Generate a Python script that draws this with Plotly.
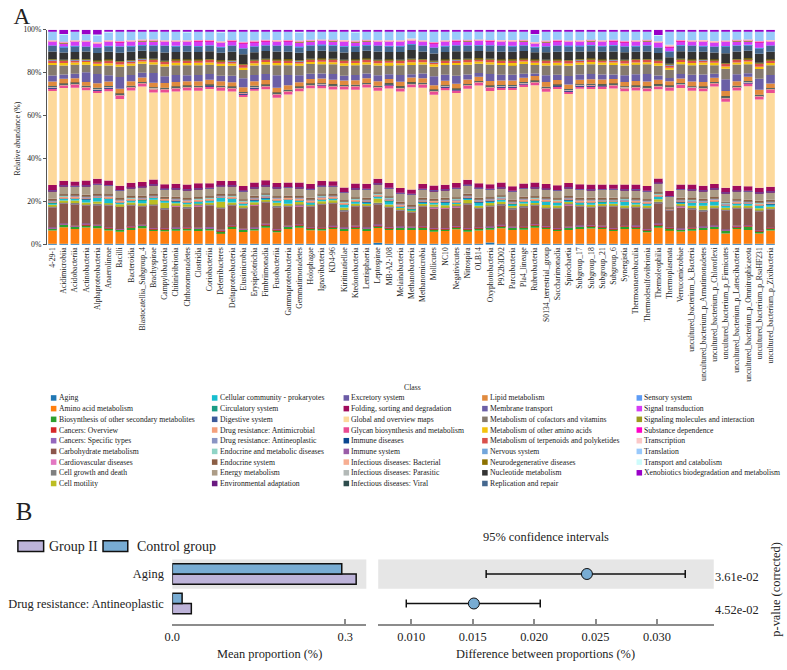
import plotly.graph_objects as go

W, H = 787, 670
FONT = "Liberation Serif, Times New Roman, serif"

# ---------------- Panel A data ----------------
taxa = ["4-29-1", "Acidimicrobiia", "Acidobacteriia", "Actinobacteria", "Alphaproteobacteria",
        "Anaerolineae", "Bacilli", "Bacteroidia", "Blastocatellia_Subgroup_4", "Brachyspirae",
        "Campylobacteria", "Chitinivibrionia", "Chthonomonadetes", "Clostridia", "Coriobacteriia",
        "Deferribacteres", "Deltaproteobacteria", "Elusimicrobia", "Erysipelotrichia", "Fimbriimonadia",
        "Fusobacteriia", "Gammaproteobacteria", "Gemmatimonadetes", "Holophagae", "Ignavibacteria",
        "KD4-96", "Kiritimatiellae", "Ktedonobacteria", "Lentisphaeria", "Leptospirae",
        "MB-A2-108", "Melainabacteria", "Methanobacteria", "Methanomicrobia", "Mollicutes",
        "NC10", "Negativicutes", "Nitrospira", "OLB14", "Oxyphotobacteria",
        "P9X2b3D02", "Parcubacteria", "Pla4_lineage", "Rubrobacteria", "S0134_terrestrial_group",
        "Saccharimonadia", "Spirochaetia", "Subgroup_17", "Subgroup_18", "Subgroup_21",
        "Subgroup_6", "Synergistia", "Thermoanaerobaculia", "Thermodesulfovibrionia", "Thermoleophilia",
        "Thermoplasmata", "Verrucomicrobiae", "uncultured_bacterium_k_Bacteria",
        "uncultured_bacterium_p_Armatimonadetes", "uncultured_bacterium_p_Chloroflexi",
        "uncultured_bacterium_p_Firmicutes", "uncultured_bacterium_p_Latescibacteria",
        "uncultured_bacterium_p_Omnitrophicaeota", "uncultured_bacterium_p_RsaHF231",
        "uncultured_bacterium_p_Zixibacteria"]

classes = ["Aging", "Amino acid metabolism", "Biosynthesis of other secondary metabolites",
           "Cancers: Overview", "Cancers: Specific types", "Carbohydrate metabolism",
           "Cardiovascular diseases", "Cell growth and death", "Cell motility",
           "Cellular community - prokaryotes", "Circulatory system", "Digestive system",
           "Drug resistance: Antimicrobial", "Drug resistance: Antineoplastic",
           "Endocrine and metabolic diseases", "Endocrine system", "Energy metabolism",
           "Environmental adaptation", "Excretory system", "Folding, sorting and degradation",
           "Global and overview maps", "Glycan biosynthesis and metabolism", "Immune diseases",
           "Immune system", "Infectious diseases: Bacterial", "Infectious diseases: Parasitic",
           "Infectious diseases: Viral", "Lipid metabolism", "Membrane transport",
           "Metabolism of cofactors and vitamins", "Metabolism of other amino acids",
           "Metabolism of terpenoids and polyketides", "Nervous system", "Neurodegenerative diseases",
           "Nucleotide metabolism", "Replication and repair", "Sensory system", "Signal transduction",
           "Signaling molecules and interaction", "Substance dependence", "Transcription",
           "Translation", "Transport and catabolism", "Xenobiotics biodegradation and metabolism"]

class_colors = ["#1f77b4", "#ff7f0e", "#2ca02c", "#d62728", "#9467bd", "#8c564b", "#e377c2",
                "#7f7f7f", "#bcbd22", "#17becf", "#1a9c84", "#3c5a9a", "#f4a07c", "#8a95c4",
                "#8fd4c6", "#8b5e45", "#ac9c86", "#6a1a80", "#6b5ba6", "#a00b5c", "#fdd99b",
                "#ea4c93", "#0a4690", "#9a5ca8", "#f7ae92", "#b3b9b7", "#2e4d4d", "#e08a3e",
                "#6b5fa6", "#857a6e", "#f4c20d", "#d9504c", "#72a6dc", "#8c7100", "#333333",
                "#45688f", "#5e9cf5", "#d43cf4", "#9d9a1e", "#ff00c8", "#fbc8c8", "#99c9fb",
                "#cdfbfb", "#9900c8"]

aging = [0.4,0.4,0.4,0.4,0.5,0.4,0.4,0.4,0.4,0.4,
         0.4,0.4,0.4,0.4,0.4,0.4,0.5,0.4,0.4,0.4,
         0.4,0.5,0.4,0.4,0.4,0.4,0.4,0.4,0.4,0.9,
         0.4,0.4,0.4,0.4,0.4,0.4,0.4,0.4,0.4,1.0,
         0.5,0.4,0.4,0.4,0.4,0.4,0.4,0.4,0.4,0.4,
         0.4,0.4,0.4,0.4,0.4,0.4,0.4,0.5,0.4,0.4,
         0.4,0.4,0.4,0.4,0.4]
amino_acid = [6.2,7.7,6.9,7.7,7.2,6.2,5.7,6.5,7.2,6.0,
              5.9,6.2,6.2,6.0,6.2,5.2,6.9,5.5,6.2,7.5,
              5.4,6.9,7.5,6.3,6.3,6.9,6.0,6.9,6.0,6.9,
              6.5,6.5,6.5,6.5,5.7,6.0,6.8,5.7,6.2,6.0,
              7.2,6.5,6.5,7.5,6.9,6.0,6.5,6.9,7.2,6.9,
              6.0,6.9,6.9,5.4,7.5,6.5,5.7,6.0,6.5,6.9,
              4.9,6.9,6.5,4.9,6.2]
biosynthesis = [1.0,1.3,1.2,1.3,1.2,1.1,1.0,1.2,1.3,1.0,
                1.0,1.1,1.0,1.1,1.0,0.9,1.2,1.2,1.0,1.3,
                1.2,1.1,1.2,1.0,1.0,1.1,1.2,1.1,1.2,1.1,
                1.0,1.2,1.1,1.2,1.3,1.0,1.1,1.2,1.1,1.1,
                1.2,1.1,1.2,1.2,1.1,1.0,1.1,1.1,1.2,1.1,
                1.0,1.2,1.1,1.1,1.4,0.9,1.0,1.1,1.2,1.2,
                1.3,1.1,1.6,1.1,1.1]
cancers_overview = [0.3,0.4,0.3,0.4,0.3,0.3,0.2,0.4,0.3,0.3,
                    0.3,0.3,0.4,0.3,0.3,0.3,0.4,0.3,0.3,0.4,
                    0.3,0.3,0.4,0.3,0.3,0.4,0.3,0.3,0.3,0.4,
                    0.3,0.3,0.3,0.4,0.3,0.3,0.4,0.3,0.3,0.3,
                    0.4,0.3,0.3,0.4,0.3,0.3,0.3,0.4,0.3,0.3,
                    0.3,0.4,0.3,0.3,0.5,0.3,0.3,0.4,0.3,0.3,
                    0.4,0.3,0.5,0.3,0.3]
cancers_specific = [0.1,0.1,0.1,0.2,0.1,0.1,0.1,0.1,0.1,0.1,
                    0.1,0.1,0.1,0.1,0.2,0.1,0.1,0.1,0.1,0.1,
                    0.1,0.1,0.1,0.1,0.1,0.1,0.2,0.1,0.1,0.1,
                    0.1,0.1,0.1,0.1,0.1,0.1,0.1,0.2,0.1,0.1,
                    0.1,0.1,0.1,0.1,0.1,0.1,0.1,0.1,0.1,0.1,
                    0.1,0.1,0.2,0.1,0.1,0.1,0.1,0.1,0.1,0.1,
                    0.1,0.1,0.1,0.1,0.1]
carbohydrate = [9.4,9.3,10.0,8.6,9.2,10.2,10.4,9.8,8.7,10.4,
                8.9,10.2,9.0,10.2,10.2,10.0,9.4,9.6,10.6,10.0,
                10.2,9.0,8.6,9.6,10.8,10.6,7.6,9.2,9.8,9.6,
                9.2,7.4,6.6,9.2,9.4,9.4,9.0,11.0,8.8,9.2,
                9.2,8.4,9.0,8.6,8.4,9.2,10.2,9.0,8.2,9.0,
                10.0,8.0,8.6,9.6,9.6,8.0,10.2,8.6,7.2,8.0,
                9.0,8.2,7.8,8.8,8.4]
cardiovascular = [0.1,0.1,0.2,0.1,0.1,0.1,0.1,0.1,0.1,0.1,
                  0.1,0.1,0.1,0.2,0.1,0.1,0.1,0.1,0.1,0.1,
                  0.1,0.1,0.1,0.1,0.2,0.1,0.1,0.1,0.1,0.1,
                  0.1,0.1,0.1,0.1,0.1,0.2,0.1,0.1,0.1,0.1,
                  0.1,0.1,0.1,0.1,0.1,0.1,0.2,0.1,0.1,0.1,
                  0.1,0.1,0.1,0.1,0.1,0.1,0.1,0.1,0.1,0.2,
                  0.1,0.1,0.1,0.1,0.1]
cell_growth = [0.4,0.5,0.4,0.4,0.5,0.4,0.3,0.4,0.5,0.4,
               0.4,0.4,0.5,0.4,0.4,0.3,0.4,0.5,0.4,0.4,
               0.5,0.4,0.4,0.4,0.5,0.4,0.4,0.3,0.4,0.5,
               0.4,0.4,0.4,0.5,0.4,0.4,0.4,0.5,0.4,0.4,
               0.4,0.5,0.4,0.4,0.4,0.5,0.4,0.4,0.4,0.4,
               0.5,0.4,0.4,0.4,0.5,0.1,0.4,0.4,0.5,0.4,
               0.4,0.4,0.5,0.4,0.4]
cell_motility = [0.7,0.8,1.2,0.7,1.0,0.6,0.7,0.8,0.7,2.2,
                 2.5,0.7,1.2,0.6,0.7,2.6,0.8,0.7,0.7,0.6,
                 1.5,0.7,1.2,0.7,0.8,0.7,1.2,0.7,0.6,2.0,
                 0.7,0.7,0.7,0.6,1.0,0.7,0.7,1.5,0.7,1.2,
                 1.0,0.7,1.2,0.7,0.9,0.7,0.7,0.6,0.7,0.7,
                 0.7,0.8,0.7,0.8,1.2,0.1,0.7,1.0,1.8,0.7,
                 0.7,0.7,0.7,1.0,0.7]
cellular_community = [1.0,1.0,1.0,1.8,1.8,2.3,1.0,1.0,1.6,1.0,
                      1.0,1.1,1.0,0.9,1.0,2.0,1.8,1.0,1.1,1.0,
                      1.0,2.0,1.0,0.9,1.0,1.1,1.6,1.0,1.0,1.0,
                      1.8,1.0,0.6,1.0,1.0,1.5,1.0,1.0,1.8,1.0,
                      1.0,1.1,1.0,1.3,1.8,1.5,1.0,0.9,1.2,1.0,
                      1.0,1.8,1.2,1.0,1.5,0.2,1.0,1.5,1.5,2.1,
                      1.0,1.1,1.0,1.4,1.4]
circulatory = [0.05,0.05,0.1,0.05,0.05,0.05,0.05,0.1,0.05,0.05,
               0.05,0.05,0.05,0.05,0.1,0.05,0.05,0.05,0.05,0.05,
               0.1,0.05,0.05,0.05,0.05,0.05,0.05,0.1,0.05,0.05,
               0.05,0.05,0.05,0.05,0.05,0.1,0.05,0.05,0.05,0.05,
               0.05,0.05,0.1,0.05,0.05,0.05,0.05,0.05,0.05,0.1,
               0.05,0.05,0.05,0.05,0.05,0.05,0.1,0.05,0.05,0.05,
               0.05,0.05,0.05,0.1,0.05]
digestive = [0.05,0.1,0.05,0.05,0.05,0.05,0.1,0.05,0.05,0.05,
             0.05,0.05,0.1,0.05,0.05,0.05,0.05,0.05,0.1,0.05,
             0.05,0.05,0.05,0.1,0.05,0.05,0.05,0.05,0.05,0.1,
             0.05,0.05,0.1,0.05,0.05,0.05,0.05,0.1,0.05,0.05,
             0.05,0.1,0.05,0.05,0.05,0.05,0.1,0.05,0.05,0.05,
             0.05,0.05,0.05,0.1,0.05,0.05,0.05,0.05,0.1,0.05,
             0.05,0.05,0.1,0.05,0.05]
drug_antimicrobial = [0.8,0.7,0.9,0.8,0.7,0.8,0.9,0.7,0.8,0.6,
                      0.8,0.9,0.7,0.8,0.8,0.7,0.9,0.8,0.7,0.8,
                      0.9,0.8,0.7,0.8,0.9,0.8,0.7,0.8,0.8,0.7,
                      0.8,0.9,0.7,0.8,0.8,0.7,0.9,0.8,0.8,0.7,
                      0.8,0.8,0.9,0.7,0.8,0.8,0.7,0.8,0.9,0.8,
                      0.7,0.8,0.8,0.9,0.7,0.2,0.8,0.8,0.7,0.8,
                      0.8,0.9,0.7,0.8,0.8]
drug_antineoplastic = [0.3,0.3,0.2,0.3,0.3,0.3,0.2,0.3,0.3,0.3,
                       0.2,0.3,0.3,0.3,0.3,0.2,0.3,0.3,0.3,0.3,
                       0.3,0.2,0.3,0.3,0.3,0.3,0.3,0.2,0.3,0.3,
                       0.3,0.3,0.3,0.3,0.2,0.3,0.3,0.3,0.3,0.3,
                       0.3,0.3,0.2,0.3,0.3,0.3,0.3,0.3,0.3,0.2,
                       0.3,0.3,0.3,0.3,0.3,0.1,0.3,0.3,0.3,0.3,
                       0.3,0.2,0.3,0.3,0.3]
endocrine_metabolic = [0.2,0.2,0.3,0.2,0.2,0.2,0.2,0.3,0.2,0.2,
                       0.2,0.2,0.2,0.3,0.2,0.2,0.2,0.2,0.2,0.3,
                       0.2,0.2,0.2,0.2,0.3,0.2,0.2,0.2,0.2,0.2,
                       0.3,0.2,0.2,0.2,0.2,0.2,0.3,0.2,0.2,0.2,
                       0.2,0.2,0.3,0.2,0.2,0.2,0.2,0.2,0.3,0.2,
                       0.2,0.2,0.2,0.2,0.2,0.05,0.2,0.3,0.2,0.2,
                       0.2,0.2,0.2,0.3,0.2]
endocrine_system = [0.5,0.6,0.5,0.5,0.4,0.5,0.5,0.6,0.5,0.5,
                    0.4,0.5,0.5,0.5,0.6,0.5,0.5,0.4,0.5,0.5,
                    0.5,0.6,0.5,0.5,0.5,0.4,0.5,0.5,0.6,0.5,
                    0.5,0.5,0.4,0.5,0.5,0.6,0.5,0.5,0.5,0.4,
                    0.5,0.5,0.6,0.5,0.5,0.5,0.4,0.5,0.5,0.6,
                    0.5,0.5,0.5,0.4,0.5,0.2,0.5,0.6,0.5,0.5,
                    0.4,0.5,0.5,0.6,0.5]
energy = [3.7,3.9,3.6,4.1,4.5,4.0,3.5,3.8,3.9,4.2,
          3.6,3.7,3.9,3.8,3.7,3.6,4.0,3.9,3.8,3.6,
          3.9,3.7,3.8,4.0,3.9,3.7,3.6,4.1,3.8,3.9,
          3.8,3.8,5.0,3.9,3.7,3.8,4.3,4.0,4.4,3.7,
          3.6,3.9,3.8,4.0,3.7,3.6,3.9,3.8,3.7,3.8,
          3.9,3.6,3.8,3.7,4.2,5.2,3.8,3.9,3.7,3.8,
          4.1,3.8,3.9,3.7,3.8]
environmental_adaptation = [0.2,0.2,0.2,0.3,0.2,0.2,0.2,0.2,0.3,0.2,
                            0.2,0.2,0.2,0.2,0.2,0.3,0.2,0.2,0.2,0.2,
                            0.2,0.2,0.3,0.2,0.2,0.2,0.2,0.2,0.2,0.3,
                            0.2,0.2,0.2,0.2,0.3,0.2,0.2,0.2,0.2,0.2,
                            0.3,0.2,0.2,0.2,0.2,0.2,0.2,0.3,0.2,0.2,
                            0.2,0.2,0.2,0.2,0.3,0.2,0.2,0.2,0.2,0.2,
                            0.3,0.2,0.2,0.2,0.2]
excretory = [0.05,0.05,0.05,0.1,0.05,0.05,0.05,0.05,0.05,0.1,
             0.05,0.05,0.05,0.05,0.05,0.05,0.1,0.05,0.05,0.05,
             0.05,0.05,0.05,0.05,0.1,0.05,0.05,0.05,0.05,0.05,
             0.05,0.1,0.05,0.05,0.05,0.05,0.05,0.05,0.1,0.05,
             0.05,0.05,0.05,0.05,0.05,0.1,0.05,0.05,0.05,0.05,
             0.05,0.05,0.1,0.05,0.05,0.05,0.05,0.05,0.05,0.05,
             0.1,0.05,0.05,0.05,0.05]
folding = [2.4,2.1,2.0,2.2,2.3,2.1,2.0,2.2,2.1,2.2,
           2.0,2.1,2.2,2.3,2.1,2.2,2.0,2.1,2.2,2.3,
           2.0,2.1,2.2,2.1,2.2,2.0,2.1,2.2,2.3,2.1,
           2.2,2.2,2.0,2.2,2.1,2.0,2.2,2.3,2.0,2.1,
           2.2,2.1,2.0,2.2,2.1,2.2,2.0,2.1,2.2,2.1,
           2.0,2.2,2.1,2.2,1.8,2.3,2.1,2.2,2.1,2.0,
           2.1,2.2,2.1,2.2,2.1]
global_maps = [43.9,43.2,43.7,42.4,39.9,41.7,40.5,43.1,44.3,40.5,
               42.7,43.3,43.8,43.1,43.8,41.7,41.9,41.7,42.7,42.3,
               39.9,41.1,42.5,44.4,43.4,42.8,45.9,43.6,44.7,41.2,
               44.0,45.1,47.7,44.9,42.3,44.3,42.1,42.5,45.3,43.3,
               43.3,45.1,44.9,45.2,43.1,44.9,41.4,44.4,44.6,44.4,
               44.7,43.5,43.8,44.2,41.8,46.9,44.9,43.8,44.0,45.3,
               40.2,44.3,46.6,41.4,43.8]
glycan = [1.5,1.4,1.6,1.4,1.5,1.5,1.8,1.5,1.4,1.6,
          1.5,1.5,1.4,1.6,1.5,1.5,1.6,1.5,1.4,1.5,
          1.6,1.5,1.5,1.4,1.5,1.6,1.5,1.5,1.4,1.5,
          1.6,1.5,1.4,1.5,1.5,1.6,1.5,1.5,1.4,1.6,
          1.5,1.5,1.4,1.5,1.6,1.5,1.5,1.4,1.5,1.5,
          1.6,1.5,1.5,1.4,1.5,1.5,1.6,1.5,1.5,1.4,
          1.6,1.5,1.5,1.5,1.6]
immune_diseases = [0.1,0.1,0.1,0.1,0.1,0.2,0.1,0.1,0.1,0.1,
                   0.1,0.1,0.2,0.1,0.1,0.1,0.1,0.1,0.1,0.1,
                   0.2,0.1,0.1,0.1,0.1,0.1,0.1,0.2,0.1,0.1,
                   0.1,0.1,0.1,0.1,0.2,0.1,0.1,0.1,0.1,0.1,
                   0.1,0.2,0.1,0.1,0.1,0.1,0.1,0.1,0.2,0.1,
                   0.1,0.1,0.1,0.1,0.1,0.2,0.1,0.1,0.1,0.1,
                   0.1,0.1,0.2,0.1,0.1]
immune_system = [0.05,0.05,0.05,0.05,0.1,0.05,0.05,0.05,0.05,0.05,
                 0.05,0.1,0.05,0.05,0.05,0.05,0.05,0.05,0.1,0.05,
                 0.05,0.05,0.05,0.05,0.05,0.1,0.05,0.05,0.05,0.05,
                 0.05,0.05,0.1,0.05,0.05,0.05,0.05,0.05,0.05,0.1,
                 0.05,0.05,0.05,0.05,0.05,0.05,0.1,0.05,0.05,0.05,
                 0.05,0.05,0.05,0.1,0.05,0.05,0.05,0.05,0.05,0.05,
                 0.1,0.05,0.05,0.05,0.05]
inf_bacterial = [0.3,0.3,0.4,0.3,0.3,0.3,0.2,0.3,0.3,0.4,
                 0.3,0.3,0.3,0.3,0.2,0.3,0.3,0.4,0.3,0.3,
                 0.3,0.3,0.3,0.4,0.3,0.3,0.2,0.3,0.3,0.3,
                 0.3,0.4,0.3,0.3,0.3,0.3,0.2,0.3,0.3,0.4,
                 0.3,0.3,0.3,0.3,0.3,0.2,0.3,0.3,0.4,0.3,
                 0.3,0.3,0.3,0.3,0.4,0.3,0.3,0.2,0.3,0.3,
                 0.3,0.3,0.4,0.3,0.3]
inf_parasitic = [0.1,0.1,0.1,0.1,0.1,0.1,0.2,0.1,0.1,0.1,
                 0.1,0.1,0.1,0.1,0.1,0.2,0.1,0.1,0.1,0.1,
                 0.1,0.1,0.1,0.1,0.2,0.1,0.1,0.1,0.1,0.1,
                 0.1,0.1,0.1,0.2,0.1,0.1,0.1,0.1,0.1,0.1,
                 0.1,0.1,0.2,0.1,0.1,0.1,0.1,0.1,0.1,0.1,
                 0.1,0.2,0.1,0.1,0.1,0.1,0.1,0.1,0.1,0.1,
                 0.2,0.1,0.1,0.1,0.1]
inf_viral = [0.2,0.2,0.2,0.2,0.3,0.2,0.2,0.2,0.2,0.2,
             0.2,0.3,0.2,0.2,0.2,0.2,0.2,0.2,0.3,0.2,
             0.2,0.2,0.2,0.2,0.2,0.3,0.2,0.2,0.2,0.2,
             0.2,0.2,0.3,0.2,0.2,0.2,0.2,0.2,0.2,0.3,
             0.2,0.2,0.2,0.2,0.2,0.2,0.3,0.2,0.2,0.2,
             0.2,0.2,0.2,0.3,0.2,0.2,0.2,0.2,0.2,0.2,
             0.3,0.2,0.2,0.2,0.2]
lipid = [2.1,2.2,2.0,1.8,2.1,2.2,2.3,2.1,2.0,2.1,
         2.2,2.1,2.0,2.1,2.2,2.1,2.0,2.2,2.1,2.1,
         2.3,2.1,2.0,2.1,2.2,2.1,2.0,2.1,2.2,2.1,
         2.0,2.1,2.2,2.1,2.0,2.1,2.2,2.1,2.0,2.1,
         2.2,2.1,2.0,2.1,2.2,2.1,2.0,2.1,2.1,2.2,
         2.1,2.0,2.1,2.2,2.1,2.0,2.1,2.2,2.1,2.0,
         2.4,2.1,2.0,2.3,2.1]
membrane_transport = [2.8,2.0,2.2,4.5,4.3,2.9,5.5,2.9,2.2,4.5,
                      3.2,3.2,2.8,2.9,2.7,2.6,3.1,4.2,2.9,2.7,
                      5.8,4.8,3.2,2.4,2.3,2.7,2.3,2.5,2.2,2.9,
                      2.3,3.2,1.5,2.2,4.2,2.7,3.8,2.3,1.7,3.2,
                      2.7,2.7,1.9,1.1,3.2,2.4,4.0,2.4,2.4,2.4,
                      2.1,3.1,3.2,3.5,2.0,1.6,2.1,3.2,3.5,1.8,
                      5.5,3.2,1.7,5.2,4.0]
cofactors = [4.9,4.2,4.3,3.6,3.8,4.5,4.8,4.5,4.2,4.0,
             4.5,4.6,4.7,4.5,4.4,4.5,4.6,3.9,4.5,4.4,
             4.7,4.5,4.6,4.5,4.4,4.5,4.6,4.5,4.2,4.5,
             4.4,4.5,4.3,4.2,4.5,4.6,5.0,4.5,4.3,4.4,
             4.5,4.6,4.5,4.0,4.5,4.4,4.8,4.5,4.6,4.5,
             4.4,4.5,4.6,4.5,4.6,3.8,4.5,4.4,4.5,4.0,
             5.0,4.5,4.2,4.6,4.5]
other_amino_acids = [1.0,1.1,0.9,1.2,1.0,1.1,1.0,0.9,1.1,1.0,
                     1.0,1.2,1.0,1.1,0.9,1.0,1.1,1.0,1.0,1.2,
                     1.0,1.1,0.9,1.0,1.1,1.0,1.2,1.0,1.0,1.1,
                     0.9,1.0,1.3,1.0,1.1,1.0,1.0,1.2,1.0,1.1,
                     1.0,0.9,1.1,1.0,1.0,1.2,1.0,1.1,1.0,1.0,
                     1.1,1.0,0.9,1.0,1.2,1.0,1.1,1.0,1.0,1.1,
                     1.0,1.0,1.2,1.0,1.1]
terpenoids = [1.5,1.2,1.3,1.1,1.2,1.3,1.4,1.3,1.2,1.3,
              1.4,1.3,1.2,1.3,1.4,1.3,1.2,1.5,1.3,1.2,
              1.3,1.4,1.3,1.2,1.3,1.3,1.4,1.2,1.3,1.3,
              1.2,1.3,1.4,1.3,1.2,1.3,1.4,1.3,1.2,1.3,
              1.3,1.4,1.2,1.3,1.3,1.2,1.4,1.3,1.3,1.2,
              1.3,1.4,1.3,1.2,1.3,1.3,1.2,1.4,1.3,1.3,
              1.4,1.3,1.2,1.5,1.3]
nervous = [0.1,0.1,0.1,0.1,0.1,0.1,0.1,0.2,0.1,0.1,
           0.1,0.1,0.1,0.1,0.1,0.1,0.2,0.1,0.1,0.1,
           0.1,0.1,0.1,0.1,0.1,0.1,0.1,0.1,0.2,0.1,
           0.1,0.1,0.1,0.1,0.1,0.1,0.2,0.1,0.1,0.1,
           0.1,0.1,0.1,0.1,0.2,0.1,0.1,0.1,0.1,0.1,
           0.1,0.1,0.1,0.1,0.1,0.2,0.1,0.1,0.1,0.1,
           0.1,0.1,0.1,0.2,0.1]
neurodegenerative = [0.2,0.2,0.2,0.2,0.2,0.3,0.2,0.2,0.2,0.2,
                     0.2,0.2,0.3,0.2,0.2,0.2,0.2,0.2,0.2,0.2,
                     0.3,0.2,0.2,0.2,0.2,0.2,0.2,0.3,0.2,0.2,
                     0.2,0.2,0.2,0.2,0.3,0.2,0.2,0.2,0.2,0.2,
                     0.2,0.3,0.2,0.2,0.2,0.2,0.2,0.2,0.3,0.2,
                     0.2,0.2,0.2,0.2,0.2,0.3,0.2,0.2,0.2,0.2,
                     0.2,0.2,0.3,0.2,0.2]
nucleotide = [3.5,3.4,3.3,3.6,3.5,3.6,3.8,3.8,3.4,3.5,
              3.8,3.5,3.6,3.4,3.5,3.5,3.9,4.5,3.5,3.6,
              3.7,3.5,3.4,3.5,3.6,3.5,3.4,3.5,3.6,3.8,
              3.5,3.6,4.0,3.5,3.4,3.5,3.6,3.5,3.4,3.5,
              3.6,3.5,3.4,3.3,3.5,3.6,3.8,3.5,3.4,3.5,
              3.6,3.5,3.4,3.5,3.2,3.0,3.5,3.6,3.5,3.2,
              4.5,3.5,3.4,4.2,3.6]
replication = [2.8,2.7,2.9,2.3,2.5,2.8,2.9,2.8,2.7,2.8,
               3.2,2.8,2.9,2.8,2.7,2.8,2.9,2.8,2.8,2.7,
               2.8,2.9,2.8,2.7,2.8,2.8,2.9,2.8,2.7,2.8,
               2.8,2.9,2.8,2.7,2.8,2.9,2.8,2.8,2.7,2.8,
               2.9,2.8,2.7,2.5,2.8,2.9,2.8,2.7,2.8,2.8,
               2.9,2.8,2.7,2.8,2.5,2.8,2.8,2.9,2.7,2.8,
               3.4,2.8,2.7,2.8,2.9]
sensory = [0.05,0.05,0.05,0.05,0.05,0.05,0.1,0.05,0.05,0.05,
           0.05,0.05,0.05,0.05,0.1,0.05,0.05,0.05,0.05,0.05,
           0.05,0.05,0.1,0.05,0.05,0.05,0.05,0.05,0.05,0.05,
           0.1,0.05,0.05,0.05,0.05,0.05,0.05,0.05,0.1,0.05,
           0.05,0.05,0.05,0.05,0.05,0.05,0.1,0.05,0.05,0.05,
           0.05,0.05,0.05,0.05,0.1,0.05,0.05,0.05,0.05,0.05,
           0.05,0.05,0.1,0.05,0.05]
signal_transduction = [2.0,1.8,2.1,2.3,2.0,1.9,2.0,2.1,1.9,2.0,
                       2.0,2.1,1.9,2.3,2.0,2.0,2.1,2.4,2.0,1.9,
                       2.0,2.1,2.3,2.0,1.9,2.0,2.1,2.0,1.9,2.0,
                       2.1,2.0,1.6,2.0,2.1,1.9,2.0,2.1,2.0,1.9,
                       2.0,2.1,2.0,1.7,2.0,2.1,1.9,2.0,2.0,2.1,
                       1.9,2.0,2.1,2.0,2.3,2.0,1.9,2.0,2.1,2.0,
                       2.0,2.1,1.9,2.6,2.0]
signaling_molecules = [0.1,0.1,0.1,0.1,0.1,0.1,0.1,0.1,0.2,0.1,
                       0.1,0.1,0.1,0.1,0.1,0.1,0.1,0.2,0.1,0.1,
                       0.1,0.1,0.1,0.1,0.1,0.1,0.2,0.1,0.1,0.1,
                       0.1,0.1,0.1,0.1,0.1,0.2,0.1,0.1,0.1,0.1,
                       0.1,0.1,0.1,0.1,0.2,0.1,0.1,0.1,0.1,0.1,
                       0.1,0.1,0.1,0.2,0.1,0.1,0.1,0.1,0.1,0.1,
                       0.1,0.1,0.2,0.1,0.1]
substance_dependence = [0.1,0.1,0.1,0.1,0.1,0.1,0.1,0.1,0.1,0.2,
                        0.1,0.1,0.1,0.1,0.1,0.1,0.1,0.1,0.2,0.1,
                        0.1,0.1,0.1,0.1,0.1,0.1,0.1,0.2,0.1,0.1,
                        0.1,0.1,0.1,0.1,0.1,0.1,0.2,0.1,0.1,0.1,
                        0.1,0.1,0.1,0.1,0.1,0.2,0.1,0.1,0.1,0.1,
                        0.1,0.1,0.1,0.1,0.2,0.1,0.1,0.1,0.1,0.1,
                        0.1,0.1,0.1,0.2,0.1]
transcription = [0.3,0.3,0.3,0.3,0.3,0.4,0.3,0.3,0.3,0.3,
                 0.3,0.3,0.4,0.3,0.3,0.3,0.3,0.3,0.3,0.4,
                 0.3,0.3,0.3,0.3,0.3,0.3,0.4,0.3,0.3,0.3,
                 0.3,0.3,0.8,0.3,0.3,0.4,0.3,0.3,0.3,0.3,
                 0.3,0.3,0.3,0.4,0.3,0.3,0.3,0.3,0.3,0.3,
                 0.4,0.3,0.3,0.3,0.3,0.8,0.3,0.3,0.4,0.3,
                 0.3,0.3,0.3,0.3,0.4]
translation = [4.0,3.5,4.1,2.8,3.4,3.9,4.5,4.0,3.8,3.9,
               4.0,4.1,3.9,4.0,4.1,4.3,4.0,4.8,4.3,3.9,
               4.2,4.0,4.1,3.9,3.8,4.0,4.1,4.0,3.9,4.0,
               4.1,4.3,3.3,4.0,4.8,4.1,4.0,3.9,3.7,4.0,
               4.1,4.0,3.9,3.6,4.3,4.0,4.1,4.0,3.9,4.1,
               4.0,4.4,4.0,3.9,2.8,6.3,4.1,4.0,3.9,4.5,
               4.3,4.0,3.8,4.4,4.0]
transport_catabolism = [0.1,0.1,0.1,0.1,0.1,0.1,0.1,0.1,0.1,0.1,
                        0.2,0.1,0.1,0.1,0.1,0.1,0.1,0.1,0.1,0.1,
                        0.1,0.1,0.2,0.1,0.1,0.1,0.1,0.1,0.1,0.1,
                        0.1,0.1,0.1,0.1,0.2,0.1,0.1,0.1,0.1,0.1,
                        0.1,0.1,0.1,0.1,0.1,0.1,0.2,0.1,0.1,0.1,
                        0.1,0.1,0.1,0.1,0.1,0.1,0.1,0.2,0.1,0.1,
                        0.1,0.1,0.1,0.1,0.1]
xenobiotics = [0.8,2.0,0.7,2.2,2.3,1.0,0.7,0.8,0.7,0.6,
               0.7,0.8,0.9,0.7,0.6,1.0,0.7,0.8,0.7,0.7,
               0.6,0.7,0.8,0.7,0.7,0.6,0.7,0.9,0.7,0.8,
               0.7,0.6,0.7,0.8,0.7,0.7,0.6,0.7,0.8,0.7,
               0.7,0.8,0.7,2.0,0.7,0.6,0.7,0.8,0.7,0.7,
               0.6,0.7,0.8,0.7,2.5,0.7,0.6,0.7,0.8,0.7,
               0.7,0.6,0.7,0.8,0.7]

series = [aging, amino_acid, biosynthesis, cancers_overview, cancers_specific,
          carbohydrate, cardiovascular, cell_growth, cell_motility, cellular_community,
          circulatory, digestive, drug_antimicrobial, drug_antineoplastic, endocrine_metabolic,
          endocrine_system, energy, environmental_adaptation, excretory, folding,
          global_maps, glycan, immune_diseases, immune_system, inf_bacterial,
          inf_parasitic, inf_viral, lipid, membrane_transport, cofactors,
          other_amino_acids, terpenoids, nervous, neurodegenerative, nucleotide,
          replication, sensory, signal_transduction, signaling_molecules, substance_dependence,
          transcription, translation, transport_catabolism, xenobiotics]

assert len(series) == len(classes) == len(class_colors)
for s in series:
    assert len(s) == len(taxa), len(s)

y_ticks = [0, 20, 40, 60, 80, 100]
y_tick_labels = ["0%", "20%", "40%", "60%", "80%", "100%"]

# ---------------- Panel B data ----------------
pathways_b = ["Aging", "Drug resistance: Antineoplastic"]
group2_mean = [0.319, 0.033]
control_mean = [0.294, 0.017]
diff_mean = [0.0243, 0.0151]
ci_low = [0.0161, 0.0096]
ci_high = [0.0323, 0.0205]
p_values = ["3.61e-02", "4.52e-02"]
ci_ticks = [0.010, 0.015, 0.020, 0.025, 0.030]
GROUP2_COLOR = "#bdb3d9"
CONTROL_COLOR = "#78acd3"


def fx(px):
    return px / W


def fy(py):
    return 1 - py / H


fig = go.Figure()

# relative abundance (normalised to 100 % per taxon), stacked via base
n_taxa = len(taxa)
totals = [sum(s[i] for s in series) for i in range(n_taxa)]
base = [0.0] * n_taxa
for name, col, vals in zip(classes, class_colors, series):
    share = [100.0 * v / t for v, t in zip(vals, totals)]
    fig.add_trace(go.Bar(x=taxa, y=share, base=base, name=name,
                         marker=dict(color=col, line=dict(width=0)),
                         showlegend=False, xaxis="x", yaxis="y"))
    base = [b + v for b, v in zip(base, share)]

# panel B bars
fig.add_trace(go.Bar(y=pathways_b, x=group2_mean, orientation="h", offset=-0.35, width=0.35,
                     name="Group II", showlegend=False,
                     marker=dict(color=GROUP2_COLOR, line=dict(color="#111", width=1.5)),
                     xaxis="x2", yaxis="y2"))
fig.add_trace(go.Bar(y=pathways_b, x=control_mean, orientation="h", offset=0.0, width=0.35,
                     name="Control group", showlegend=False,
                     marker=dict(color=CONTROL_COLOR, line=dict(color="#111", width=1.5)),
                     xaxis="x2", yaxis="y2"))
fig.add_trace(go.Scatter(x=diff_mean, y=pathways_b, mode="markers", showlegend=False,
                         error_x=dict(type="data", symmetric=False,
                                      array=[h - d for h, d in zip(ci_high, diff_mean)],
                                      arrayminus=[d - l for d, l in zip(diff_mean, ci_low)],
                                      color="#111", thickness=1.5, width=4),
                         marker=dict(size=11, color=CONTROL_COLOR, line=dict(color="#111", width=1)),
                         xaxis="x3", yaxis="y3"))

shapes = []
annotations = []


def ann(text, x, y, size, xanchor="center", yanchor="middle", angle=0, color="#222", **kw):
    annotations.append(dict(text=text, x=fx(x), y=fy(y), xref="paper", yref="paper",
                            showarrow=False, xanchor=xanchor, yanchor=yanchor, textangle=angle,
                            borderpad=0, font=dict(family=FONT, size=size, color=color), **kw))


# Panel A labels
ann("A", 14, 12, 23, width=18, height=18)
ann("Relative abundance (%)", 9.5, 136, 7.7, angle=-90)
ann("Class", 409, 389, 7.7)

# Panel A legend (5 columns, 9 rows)
leg_cols = [43.3, 206, 339, 479, 635]
for i, (name, col) in enumerate(zip(classes, class_colors)):
    c, r = divmod(i, 9)
    bx = leg_cols[c]
    by = 399.3 + r * 10.84
    shapes.append(dict(type="rect", xref="paper", yref="paper",
                       x0=fx(bx), x1=fx(bx + 5.6), y0=fy(by + 2.8), y1=fy(by - 2.8),
                       fillcolor=col, line=dict(width=0)))
    ann(name, bx + 7, by, 7.7, xanchor="left")

# Panel B
ann("B", 16, 514, 25, width=20, height=20)
for (x0, x1, col, label, tx) in [(10, 36, GROUP2_COLOR, "Group II", 40),
                                 (96, 121, CONTROL_COLOR, "Control group", 129)]:
    shapes.append(dict(type="rect", xref="paper", yref="paper",
                       x0=fx(x0), x1=fx(x1), y0=fy(555), y1=fy(544),
                       fillcolor=col, line=dict(color="#111", width=1.5)))
    ann(label, tx, 549.5, 14, xanchor="left")

for xr, yr in [("x2 domain", "y2"), ("x3 domain", "y3")]:
    shapes.append(dict(type="rect", xref=xr, yref=yr, x0=0, x1=1, y0=0.5, y1=1.5,
                       fillcolor="#e6e6e6", line=dict(width=0), layer="below"))

ann("95% confidence intervals", 543.5, 540, 12.4)
ann("Mean proportion (%)", 264, 659, 12.4)
ann("Difference between proportions (%)", 543.5, 659, 12.4)
ann("p-value (corrected)", 775.5, 593, 12.4, angle=-90)
for pv, yy in zip(p_values, [580.5, 614]):
    ann(pv, 713, yy, 12.4, xanchor="left")

axis_b = dict(showgrid=False, zeroline=False, showline=True, linecolor="#8c8c8c", linewidth=2,
              ticks="inside", ticklen=5, tickwidth=1.5, tickcolor="#8c8c8c",
              tickfont=dict(family=FONT, size=12.4, color="#222"), anchor="free",
              position=fy(629.3))

fig.update_layout(
    width=W, height=H, margin=dict(l=0, r=0, t=0, b=0),
    paper_bgcolor="white", plot_bgcolor="white",
    font=dict(family=FONT, color="#222"),
    barmode="overlay", bargap=0.23,
    xaxis=dict(domain=[fx(39.3), fx(776)], anchor="y", type="category",
               range=[-0.5, n_taxa - 0.5], tickangle=-90, showline=False, ticks="",
               showgrid=False, tickfont=dict(family=FONT, size=7.7, color="#222")),
    yaxis=dict(domain=[fy(244), fy(26)], anchor="x", range=[0, 100],
               tickvals=y_ticks, ticktext=y_tick_labels, showgrid=False, zeroline=False,
               showline=True, linecolor="#555", linewidth=1, ticks="outside", ticklen=3,
               tickcolor="#555", tickfont=dict(family=FONT, size=7.7, color="#222")),
    xaxis2=dict(domain=[fx(166), fx(362)], range=[0, 0.3366], tickvals=[0, 0.3],
                ticktext=["0.0", "0.3"], **axis_b),
    yaxis2=dict(domain=[fy(622.6), fy(562.8)], anchor="x2", type="category",
                categoryorder="array", categoryarray=pathways_b[::-1], range=[-0.5, 1.5],
                showgrid=False, zeroline=False, showline=False, ticks="outside", ticklen=5,
                tickcolor="rgba(0,0,0,0)", tickfont=dict(family=FONT, size=12.4, color="#222")),
    xaxis3=dict(domain=[fx(374), fx(713)], range=[0.007315, 0.03462], tickvals=ci_ticks,
                tickformat=".3f", **axis_b),
    yaxis3=dict(domain=[fy(622.6), fy(562.8)], anchor="x3", type="category",
                categoryorder="array", categoryarray=pathways_b[::-1], range=[-0.5, 1.5],
                showgrid=False, zeroline=False, showline=False, showticklabels=False),
    shapes=shapes, annotations=annotations,
)

fig.write_html("out.html", config={"displayModeBar": False},
               post_script="document.body.style.margin='0';document.body.style.overflow='hidden';")
